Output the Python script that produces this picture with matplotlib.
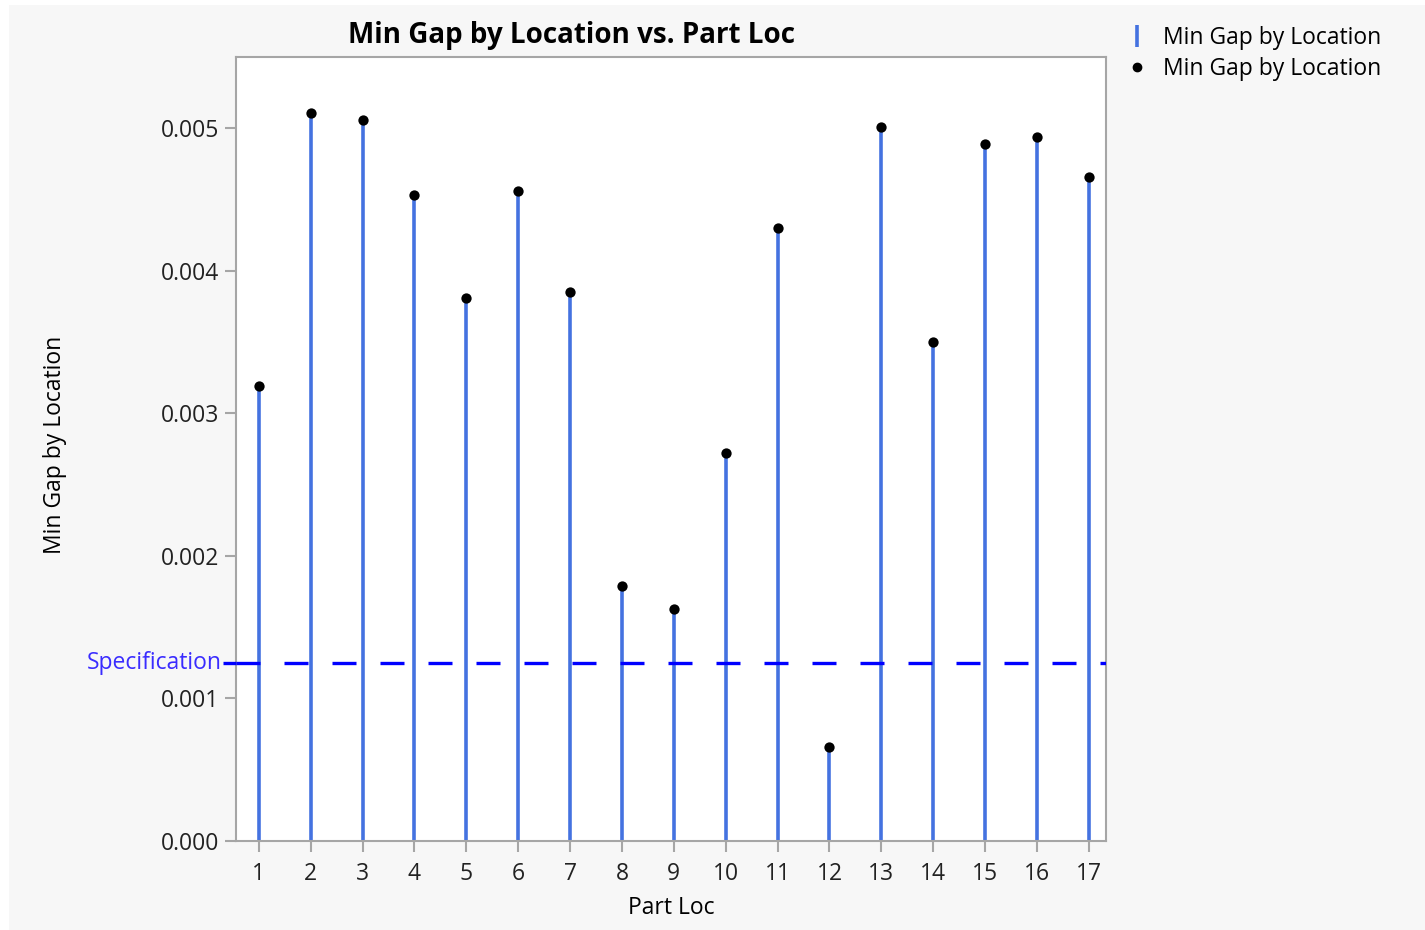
import matplotlib
matplotlib.use('Agg')
import matplotlib.pyplot as plt
from matplotlib.lines import Line2D
from matplotlib.patches import Rectangle

plt.rcParams['font.family'] = ['Open Sans', 'Noto Sans', 'DejaVu Sans']

# data
part_loc = [1, 2, 3, 4, 5, 6, 7, 8, 9, 10, 11, 12, 13, 14, 15, 16, 17]
min_gap = [0.00319, 0.00511, 0.00506, 0.00453, 0.00381, 0.00456, 0.00385,
           0.00179, 0.00163, 0.00272, 0.00430, 0.00066, 0.00501, 0.00350,
           0.00489, 0.00494, 0.00466]
spec_value = 0.00125
y_ticks = [0.000, 0.001, 0.002, 0.003, 0.004, 0.005]

stem_color = '#4472e0'
frame_color = '#a6a6a6'
bg_color = '#f7f7f7'
fs = 16.5

fig = plt.figure(figsize=(14.25, 9.3), dpi=100, facecolor='white')
# light gray panel behind everything
fig.patches.append(Rectangle((9 / 1425, 0), 1 - 9 / 1425, 1 - 5 / 930,
                             transform=fig.transFigure, facecolor=bg_color,
                             edgecolor='none', zorder=-10))

ax = fig.add_axes([236 / 1425, 1 - 841 / 930, (1106 - 236) / 1425, (841 - 57) / 930])
ax.set_facecolor('white')

x_lo, x_hi = 0.56, 17.33

# stems + dots
ax.vlines(part_loc, 0, min_gap, color=stem_color, linewidth=2.6, zorder=2)
ax.scatter(part_loc, min_gap, s=55, color='black', zorder=3, linewidths=0)

# specification line: solid stub out to the label, dashed across the plot
ax.plot([0.31, x_lo], [spec_value, spec_value], color='#0000ff', linewidth=2.4,
        clip_on=False, zorder=4, solid_capstyle='butt')
ax.plot([x_lo, x_hi], [spec_value, spec_value], color='#0000ff', linewidth=2.4,
        dashes=(7.2, 7.2), zorder=4)
ax.text(0.28, spec_value, 'Specification', color='#3a2cff', fontsize=fs,
        ha='right', va='center')

ax.set_xlim(x_lo, x_hi)
ax.set_ylim(0, 0.0055)
ax.set_xticks(part_loc)
ax.set_xticklabels([str(p) for p in part_loc])
ax.set_yticks(y_ticks)
ax.set_yticklabels([f'{v:.3f}' for v in y_ticks])

for s in ax.spines.values():
    s.set_color(frame_color)
    s.set_linewidth(1.5)
ax.tick_params(axis='both', direction='out', length=8, width=1.5, color=frame_color,
               labelsize=fs, labelcolor='#222222', pad=4)
ax.tick_params(axis='x', pad=7)

fig.text(572 / 1425, 1 - 36 / 930, 'Min Gap by Location vs. Part Loc', fontsize=20,
         fontweight='bold', ha='center', va='center')
ax.set_xlabel('Part Loc', fontsize=fs, labelpad=7)
fig.text(55 / 1425, 1 - 445 / 930, 'Min Gap by Location', rotation=90, fontsize=fs,
         ha='center', va='center')

# legend in the top right corner
handles = [Line2D([], [], color=stem_color, linestyle='none', marker='|',
                  markersize=16, markeredgewidth=2.6),
           Line2D([], [], color='black', linestyle='none', marker='o', markersize=6)]
fig.legend(handles, ['Min Gap by Location', 'Min Gap by Location'],
           loc='upper left', bbox_to_anchor=(1126 / 1425, 1 - 26 / 930),
           frameon=False, fontsize=fs, handlelength=1.0, handletextpad=0.6,
           labelspacing=0.3, borderaxespad=0, borderpad=0)

plt.savefig('out.png', dpi=100, facecolor='white')
